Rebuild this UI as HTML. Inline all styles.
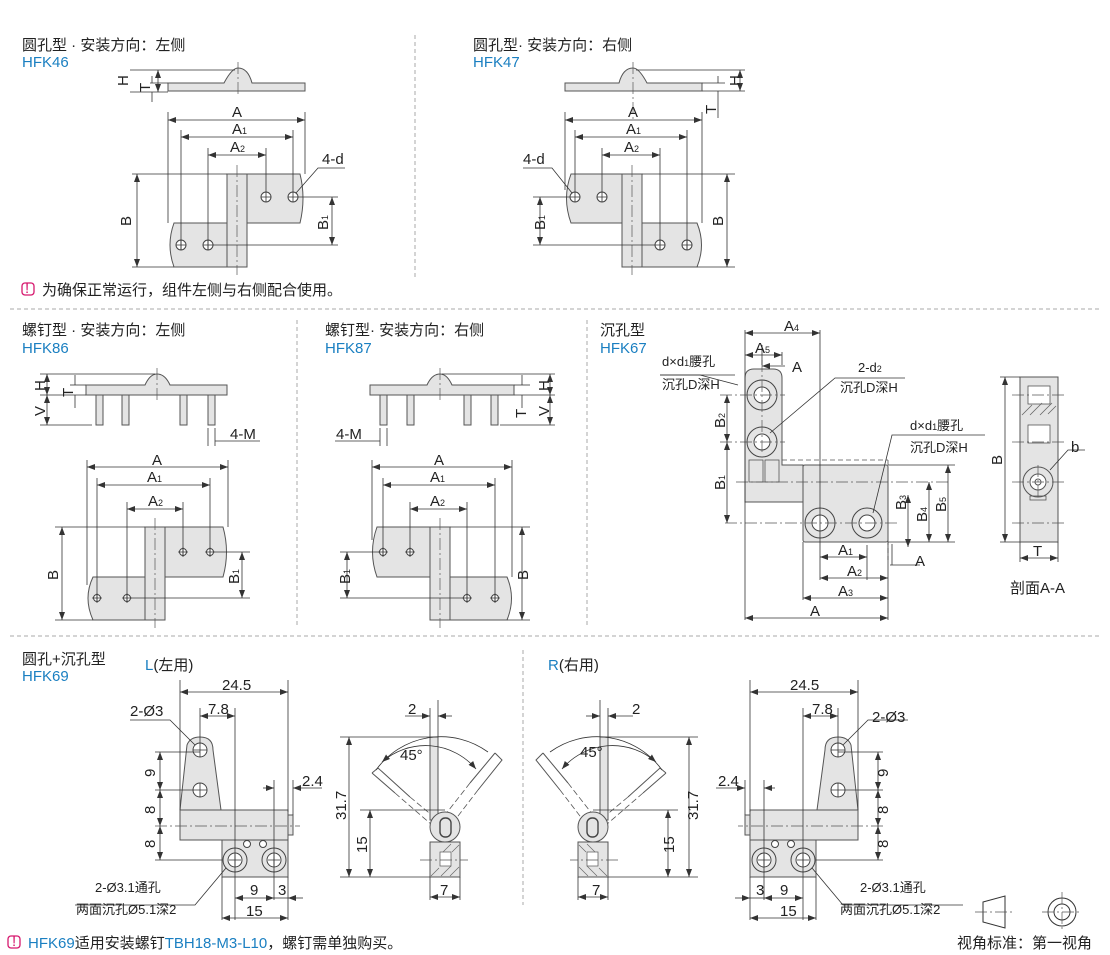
<!DOCTYPE html>
<html><head><meta charset="utf-8"><style>
html,body{margin:0;padding:0;background:#fff;}
svg{display:block;font-family:"Liberation Sans","Noto Sans CJK SC",sans-serif;}
.p{fill:#e4e4e4;stroke:#555;stroke-width:1}
.d{stroke:#333;stroke-width:.8;fill:none}
.dm{stroke:#333;stroke-width:.8;fill:none;marker-start:url(#a);marker-end:url(#a)}
.c{stroke:#555;stroke-width:.7;stroke-dasharray:12 3 2 3;fill:none}
.h{fill:#fff;stroke:#444;stroke-width:1}
.dash{stroke:#aaa;stroke-width:1;stroke-dasharray:4 3}
text{font-size:15px;fill:#222}
.b{fill:#1a7fc1}
.s{font-size:13px}
</style></head><body>
<svg width="1110" height="955" viewBox="0 0 1110 955" xmlns="http://www.w3.org/2000/svg">
<defs>
<marker id="a" viewBox="0 0 8 6" refX="8" refY="3" markerWidth="8" markerHeight="6" orient="auto-start-reverse" markerUnits="userSpaceOnUse"><path d="M0,0L8,3L0,6z" fill="#333"/></marker>
</defs>

<line class="dash" x1="415" y1="35" x2="415" y2="280"/>
<line class="dash" x1="10" y1="309" x2="1100" y2="309"/>
<line class="dash" x1="297" y1="320" x2="297" y2="625"/>
<line class="dash" x1="587" y1="320" x2="587" y2="625"/>
<line class="dash" x1="10" y1="636" x2="1100" y2="636"/>
<line class="dash" x1="523" y1="650" x2="523" y2="905"/>

<!-- ===== HFK46 ===== -->
<text x="22" y="50">圆孔型 · 安装方向：左侧</text>
<text x="22" y="67" class="b">HFK46</text>
<path class="p" d="M168,83 H224 Q232,68 238,68 Q248,68 252,83 H305 V91 H168 Z"/>
<line class="c" x1="238" y1="62" x2="238" y2="96"/>
<line class="d" x1="130" y1="70" x2="235" y2="70"/><line class="d" x1="130" y1="92" x2="168" y2="92"/><line class="d" x1="150" y1="83" x2="168" y2="83"/>
<line class="dm" x1="158" y1="70" x2="158" y2="92"/>
<line class="d" x1="152" y1="76" x2="152" y2="83"/><line class="d" x1="152" y1="92" x2="152" y2="102"/>
<text transform="translate(128,86) rotate(-90)">H</text>
<text transform="translate(150,92) rotate(-90)">T</text>
<path class="p" d="M227,174 H300 Q306,198 300,223 H227 Z"/>
<path class="p" d="M174,223 H247 V267 H174 Q166,245 174,223 Z"/>
<rect class="p" x="227" y="174" width="20" height="93"/>
<line class="c" x1="237" y1="165" x2="237" y2="275"/>
<g class="h"><circle cx="266" cy="197" r="5"/><circle cx="293" cy="197" r="5"/><circle cx="181" cy="245" r="5"/><circle cx="208" cy="245" r="5"/></g>
<g class="d"><path d="M261,197h10M266,192v10M288,197h10M293,192v10M176,245h10M181,240v10M203,245h10M208,240v10"/>
<line x1="168" y1="112" x2="168" y2="223"/><line x1="305" y1="112" x2="305" y2="174"/>
<line x1="181" y1="130" x2="181" y2="250"/><line x1="293" y1="130" x2="293" y2="192"/>
<line x1="208" y1="148" x2="208" y2="250"/><line x1="266" y1="148" x2="266" y2="192"/>
<line x1="132" y1="174" x2="227" y2="174"/><line x1="132" y1="267" x2="174" y2="267"/>
<line x1="298" y1="197" x2="338" y2="197"/><line x1="213" y1="245" x2="338" y2="245"/>
<path d="M296,193 L318,168 H345"/></g>
<line class="dm" x1="168" y1="120" x2="305" y2="120"/>
<line class="dm" x1="181" y1="137" x2="293" y2="137"/>
<line class="dm" x1="208" y1="155" x2="266" y2="155"/>
<line class="dm" x1="137" y1="174" x2="137" y2="267"/>
<line class="dm" x1="332" y1="197" x2="332" y2="245"/>
<text x="232" y="117">A</text><text x="232" y="134">A<tspan font-size="9">1</tspan></text><text x="230" y="152">A<tspan font-size="9">2</tspan></text>
<text x="322" y="164">4-d</text>
<text transform="translate(131,226) rotate(-90)">B</text>
<text transform="translate(328,230) rotate(-90)">B<tspan font-size="9">1</tspan></text>

<!-- ===== HFK47 ===== -->
<text x="473" y="50">圆孔型· 安装方向：右侧</text>
<text x="473" y="67" class="b">HFK47</text>
<path class="p" d="M565,83 H619 Q623,68 633,68 Q639,68 647,83 H702 V91 H565 Z"/>
<line class="c" x1="633" y1="62" x2="633" y2="120"/>
<line class="d" x1="636" y1="70" x2="745" y2="70"/><line class="d" x1="702" y1="91" x2="745" y2="91"/><line class="d" x1="702" y1="83" x2="725" y2="83"/>
<line class="dm" x1="740" y1="70" x2="740" y2="91"/>
<line class="d" x1="718" y1="76" x2="718" y2="83"/><line class="d" x1="718" y1="91" x2="718" y2="118"/>
<text transform="translate(740,86) rotate(-90)">H</text>
<text transform="translate(716,114) rotate(-90)">T</text>
<path class="p" d="M642,174 H571 Q562,198 571,223 H642 Z"/>
<path class="p" d="M622,223 H697 Q706,245 697,267 H622 Z"/>
<rect class="p" x="622" y="174" width="20" height="93"/>
<line class="c" x1="632" y1="165" x2="632" y2="275"/>
<g class="h"><circle cx="575" cy="197" r="5"/><circle cx="602" cy="197" r="5"/><circle cx="660" cy="245" r="5"/><circle cx="687" cy="245" r="5"/></g>
<g class="d"><path d="M570,197h10M575,192v10M597,197h10M602,192v10M655,245h10M660,240v10M682,245h10M687,240v10"/>
<line x1="565" y1="112" x2="565" y2="190"/><line x1="702" y1="112" x2="702" y2="223"/>
<line x1="575" y1="130" x2="575" y2="192"/><line x1="687" y1="130" x2="687" y2="250"/>
<line x1="602" y1="148" x2="602" y2="192"/><line x1="660" y1="148" x2="660" y2="250"/>
<line x1="642" y1="174" x2="735" y2="174"/><line x1="697" y1="267" x2="735" y2="267"/>
<line x1="533" y1="197" x2="570" y2="197"/><line x1="533" y1="245" x2="655" y2="245"/>
<path d="M572,193 L552,168 H523"/></g>
<line class="dm" x1="565" y1="120" x2="702" y2="120"/>
<line class="dm" x1="575" y1="137" x2="687" y2="137"/>
<line class="dm" x1="602" y1="155" x2="660" y2="155"/>
<line class="dm" x1="727" y1="174" x2="727" y2="267"/>
<line class="dm" x1="540" y1="197" x2="540" y2="245"/>
<text x="628" y="117">A</text><text x="626" y="134">A<tspan font-size="9">1</tspan></text><text x="624" y="152">A<tspan font-size="9">2</tspan></text>
<text x="523" y="164">4-d</text>
<text transform="translate(723,226) rotate(-90)">B</text>
<text transform="translate(545,230) rotate(-90)">B<tspan font-size="9">1</tspan></text>

<rect x="22" y="283" width="12" height="12" rx="3" fill="none" stroke="#d6186e" stroke-width="1.3"/><text x="25" y="293" font-size="11" style="fill:#d6186e">!</text>
<text x="42" y="295">为确保正常运行，组件左侧与右侧配合使用。</text>

<!-- ===== HFK86 ===== -->
<text x="22" y="335">螺钉型 · 安装方向：左侧</text>
<text x="22" y="353" class="b">HFK86</text>
<g class="p"><rect x="96" y="395" width="7" height="30"/><rect x="122" y="395" width="7" height="30"/><rect x="180" y="395" width="7" height="30"/><rect x="208" y="395" width="7" height="30"/></g>
<path class="p" d="M86,385 H145 Q150,374 157,374 Q165,374 170,385 H227 V395 H86 Z"/>
<line class="c" x1="157" y1="368" x2="157" y2="400"/>
<g class="d"><line x1="40" y1="374" x2="155" y2="374"/><line x1="40" y1="395" x2="86" y2="395"/><line x1="70" y1="385" x2="86" y2="385"/><line x1="40" y1="425" x2="92" y2="425"/>
<line x1="208" y1="428" x2="208" y2="446"/><line x1="215" y1="428" x2="215" y2="446"/><line x1="215" y1="441" x2="260" y2="441"/></g>
<line class="dm" x1="47" y1="374" x2="47" y2="395"/><line class="dm" x1="47" y1="395" x2="47" y2="425"/>
<line class="d" x1="75" y1="375" x2="75" y2="385"/><line class="d" x1="75" y1="395" x2="75" y2="408"/>
<text transform="translate(45,391) rotate(-90)">H</text><text transform="translate(73,397) rotate(-90)">T</text><text transform="translate(45,416) rotate(-90)">V</text>
<text x="230" y="439">4-M</text>
<path class="p" d="M145,527 H223 Q230,552 223,577 H145 Z"/>
<path class="p" d="M93,577 H165 V620 H93 Q83,598 93,577 Z"/>
<rect class="p" x="145" y="527" width="20" height="93"/>
<line class="c" x1="155" y1="518" x2="155" y2="628"/>
<g class="h"><circle cx="183" cy="552" r="3.5"/><circle cx="210" cy="552" r="3.5"/><circle cx="97" cy="598" r="3.5"/><circle cx="127" cy="598" r="3.5"/></g>
<g class="d"><path d="M178,552h10M183,547v10M205,552h10M210,547v10M92,598h10M97,593v10M122,598h10M127,593v10"/>
<line x1="87" y1="460" x2="87" y2="585"/><line x1="228" y1="460" x2="228" y2="527"/>
<line x1="97" y1="478" x2="97" y2="602"/><line x1="210" y1="478" x2="210" y2="556"/>
<line x1="127" y1="502" x2="127" y2="602"/><line x1="183" y1="502" x2="183" y2="556"/>
<line x1="55" y1="527" x2="145" y2="527"/><line x1="55" y1="620" x2="93" y2="620"/>
<line x1="214" y1="552" x2="250" y2="552"/><line x1="131" y1="598" x2="250" y2="598"/></g>
<line class="dm" x1="87" y1="467" x2="228" y2="467"/><line class="dm" x1="97" y1="485" x2="210" y2="485"/><line class="dm" x1="127" y1="509" x2="183" y2="509"/>
<line class="dm" x1="62" y1="527" x2="62" y2="620"/><line class="dm" x1="242" y1="552" x2="242" y2="598"/>
<text x="152" y="465">A</text><text x="147" y="482">A<tspan font-size="9">1</tspan></text><text x="148" y="506">A<tspan font-size="9">2</tspan></text>
<text transform="translate(58,580) rotate(-90)">B</text><text transform="translate(239,584) rotate(-90)">B<tspan font-size="9">1</tspan></text>

<!-- ===== HFK87 ===== -->
<text x="325" y="335">螺钉型· 安装方向：右侧</text>
<text x="325" y="353" class="b">HFK87</text>
<g class="p"><rect x="380" y="395" width="7" height="30"/><rect x="407" y="395" width="7" height="30"/><rect x="464" y="395" width="7" height="30"/><rect x="491" y="395" width="7" height="30"/></g>
<path class="p" d="M370,385 H427 Q432,374 440,374 Q447,374 452,385 H514 V395 H370 Z"/>
<line class="c" x1="440" y1="368" x2="440" y2="400"/>
<g class="d"><line x1="442" y1="374" x2="555" y2="374"/><line x1="514" y1="395" x2="555" y2="395"/><line x1="514" y1="385" x2="530" y2="385"/><line x1="500" y1="425" x2="555" y2="425"/>
<line x1="380" y1="428" x2="380" y2="446"/><line x1="387" y1="428" x2="387" y2="446"/><line x1="335" y1="441" x2="380" y2="441"/></g>
<line class="dm" x1="550" y1="374" x2="550" y2="395"/><line class="dm" x1="550" y1="395" x2="550" y2="425"/>
<line class="d" x1="522" y1="375" x2="522" y2="385"/><line class="d" x1="522" y1="395" x2="522" y2="408"/>
<text transform="translate(549,391) rotate(-90)">H</text><text transform="translate(526,418) rotate(-90)">T</text><text transform="translate(549,416) rotate(-90)">V</text>
<text x="336" y="439">4-M</text>
<path class="p" d="M450,527 H377 Q368,552 377,577 H450 Z"/>
<path class="p" d="M430,577 H507 Q516,598 507,620 H430 Z"/>
<rect class="p" x="430" y="527" width="20" height="93"/>
<line class="c" x1="440" y1="518" x2="440" y2="628"/>
<g class="h"><circle cx="383" cy="552" r="3.5"/><circle cx="410" cy="552" r="3.5"/><circle cx="467" cy="598" r="3.5"/><circle cx="495" cy="598" r="3.5"/></g>
<g class="d"><path d="M378,552h10M383,547v10M405,552h10M410,547v10M462,598h10M467,593v10M490,598h10M495,593v10"/>
<line x1="372" y1="460" x2="372" y2="540"/><line x1="512" y1="460" x2="512" y2="577"/>
<line x1="383" y1="478" x2="383" y2="556"/><line x1="495" y1="478" x2="495" y2="602"/>
<line x1="410" y1="502" x2="410" y2="556"/><line x1="467" y1="502" x2="467" y2="602"/>
<line x1="450" y1="527" x2="530" y2="527"/><line x1="507" y1="620" x2="530" y2="620"/>
<line x1="340" y1="552" x2="379" y2="552"/><line x1="340" y1="598" x2="463" y2="598"/></g>
<line class="dm" x1="372" y1="467" x2="512" y2="467"/><line class="dm" x1="383" y1="485" x2="495" y2="485"/><line class="dm" x1="410" y1="509" x2="467" y2="509"/>
<line class="dm" x1="522" y1="527" x2="522" y2="620"/><line class="dm" x1="347" y1="552" x2="347" y2="598"/>
<text x="434" y="465">A</text><text x="430" y="482">A<tspan font-size="9">1</tspan></text><text x="430" y="506">A<tspan font-size="9">2</tspan></text>
<text transform="translate(528,580) rotate(-90)">B</text><text transform="translate(350,584) rotate(-90)">B<tspan font-size="9">1</tspan></text>

<!-- ===== HFK67 ===== -->
<text x="600" y="335">沉孔型</text>
<text x="600" y="353" class="b">HFK67</text>
<path class="p" d="M745,378 Q745,369 754,369 H773 Q782,369 782,378 V465 H803 V502 H745 Z"/>
<rect class="p" x="803" y="465" width="85" height="77" rx="2"/>
<line x1="782" y1="460" x2="888" y2="460" stroke="#555" stroke-dasharray="5 3" stroke-width=".8"/>
<line x1="888" y1="460" x2="888" y2="560" stroke="#555" stroke-dasharray="5 3" stroke-width=".8"/>
<g fill="none" stroke="#555" stroke-width=".8"><rect x="749" y="460" width="14" height="22"/><rect x="765" y="460" width="14" height="22"/></g>
<g class="h"><circle cx="762" cy="395" r="15" fill="#e4e4e4"/><circle cx="762" cy="395" r="8"/><circle cx="762" cy="442" r="15" fill="#e4e4e4"/><circle cx="762" cy="442" r="8"/>
<circle cx="820" cy="523" r="15" fill="#e4e4e4"/><circle cx="820" cy="523" r="8"/><circle cx="867" cy="523" r="15" fill="#e4e4e4"/><circle cx="867" cy="523" r="8"/></g>
<g class="c"><line x1="720" y1="395" x2="785" y2="395"/><line x1="720" y1="442" x2="785" y2="442"/><line x1="736" y1="482" x2="950" y2="482"/><line x1="725" y1="523" x2="900" y2="523"/><line x1="762" y1="360" x2="762" y2="455"/></g>
<g class="d"><line x1="745" y1="330" x2="745" y2="620"/><line x1="820" y1="330" x2="820" y2="545"/><line x1="782" y1="352" x2="782" y2="365"/><line x1="762" y1="345" x2="762" y2="365"/>
<line x1="888" y1="542" x2="888" y2="620"/><line x1="803" y1="542" x2="803" y2="600"/><line x1="867" y1="545" x2="867" y2="580"/><line x1="820" y1="545" x2="820" y2="580"/>
<line x1="888" y1="465" x2="955" y2="465"/><line x1="888" y1="542" x2="955" y2="542"/>
<path d="M770,433 L835,378 H905"/><path d="M873,513 L892,435 H985"/>
<path d="M738,385 L700,375 H660"/><line x1="660" y1="375" x2="735" y2="375"/>
<line x1="890" y1="565" x2="920" y2="565"/><line x1="892" y1="544" x2="892" y2="565"/></g>
<line class="dm" x1="745" y1="333" x2="820" y2="333"/>
<line class="dm" x1="745" y1="355" x2="782" y2="355"/>
<line class="d" x1="762" y1="366" x2="785" y2="366" marker-start="url(#a)"/>
<line class="dm" x1="727" y1="395" x2="727" y2="442"/><line class="dm" x1="727" y1="442" x2="727" y2="523"/>
<line class="dm" x1="908" y1="495" x2="908" y2="547"/><line class="dm" x1="929" y1="482" x2="929" y2="542"/><line class="dm" x1="948" y1="465" x2="948" y2="542"/>
<line class="dm" x1="820" y1="557" x2="867" y2="557"/><line class="dm" x1="820" y1="578" x2="888" y2="578"/><line class="dm" x1="803" y1="598" x2="888" y2="598"/><line class="dm" x1="745" y1="618" x2="888" y2="618"/>
<text x="784" y="331">A<tspan font-size="9">4</tspan></text><text x="755" y="353">A<tspan font-size="9">5</tspan></text><text x="792" y="372">A</text>
<text x="662" y="366" class="s">d×d<tspan font-size="9">1</tspan>腰孔</text><text x="662" y="389" class="s">沉孔D深H</text>
<text x="858" y="372" class="s">2-d<tspan font-size="9">2</tspan></text><text x="840" y="392" class="s">沉孔D深H</text>
<text x="910" y="430" class="s">d×d<tspan font-size="9">1</tspan>腰孔</text><text x="910" y="452" class="s">沉孔D深H</text>
<text transform="translate(725,428) rotate(-90)">B<tspan font-size="9">2</tspan></text>
<text transform="translate(725,490) rotate(-90)">B<tspan font-size="9">1</tspan></text>
<text transform="translate(906,510) rotate(-90)">B<tspan font-size="9">3</tspan></text>
<text transform="translate(927,522) rotate(-90)">B<tspan font-size="9">4</tspan></text>
<text transform="translate(946,512) rotate(-90)">B<tspan font-size="9">5</tspan></text>
<text x="838" y="555">A<tspan font-size="9">1</tspan></text><text x="847" y="576">A<tspan font-size="9">2</tspan></text><text x="838" y="596">A<tspan font-size="9">3</tspan></text><text x="810" y="616">A</text><text x="915" y="566">A</text>
<rect class="p" x="1020" y="377" width="38" height="165"/>
<g fill="#fff" stroke="#555" stroke-width=".8"><rect x="1028" y="386" width="22" height="18"/><rect x="1028" y="425" width="22" height="18"/></g>
<path d="M1022,415 l10,-10 M1030,415 l12,-12 M1040,415 l12,-12 M1048,414 l8,-8" stroke="#666" stroke-width=".8"/>
<circle cx="1038" cy="482" r="15" fill="#e4e4e4" stroke="#555"/><circle cx="1038" cy="482" r="8" fill="#fff" stroke="#555"/><circle cx="1038" cy="482" r="3" fill="#fff" stroke="#555"/>
<rect x="1030" y="496" width="16" height="4" fill="none" stroke="#555" stroke-width=".8"/>
<g class="c"><line x1="1012" y1="395" x2="1065" y2="395"/><line x1="1012" y1="442" x2="1065" y2="442"/><line x1="1012" y1="482" x2="1065" y2="482"/><line x1="1012" y1="523" x2="1065" y2="523"/><line x1="1038" y1="465" x2="1038" y2="500"/></g>
<g class="d"><line x1="1000" y1="377" x2="1020" y2="377"/><line x1="1000" y1="542" x2="1020" y2="542"/><line x1="1020" y1="542" x2="1020" y2="562"/><line x1="1058" y1="542" x2="1058" y2="562"/><path d="M1050,470 L1068,450 H1085"/></g>
<line class="dm" x1="1005" y1="377" x2="1005" y2="542"/><line class="dm" x1="1020" y1="558" x2="1058" y2="558"/>
<text transform="translate(1002,465) rotate(-90)">B</text><text x="1033" y="556">T</text><text x="1071" y="452">b</text>
<text x="1010" y="593">剖面A-A</text>

<!-- ===== HFK69 ===== -->
<text x="22" y="664">圆孔+沉孔型</text>
<text x="22" y="681" class="b">HFK69</text>
<text x="145" y="670"><tspan class="b">L</tspan>(左用)</text>
<text x="548" y="670"><tspan class="b">R</tspan>(右用)</text>

<g id="L">
<path class="p" d="M187,745 Q190,737 200,737 Q213,737 213,750 L221,810 H180 Z"/>
<rect class="p" x="180" y="810" width="108" height="30"/>
<rect class="p" x="222" y="840" width="66" height="37"/>
<rect class="p" x="288" y="815" width="5" height="20"/>
<g class="h"><circle cx="200" cy="750" r="7"/><circle cx="200" cy="790" r="7"/><circle cx="235" cy="860" r="12" fill="#e4e4e4"/><circle cx="235" cy="860" r="7"/><circle cx="274" cy="860" r="12" fill="#e4e4e4"/><circle cx="274" cy="860" r="7"/><circle cx="247" cy="844" r="3.5"/><circle cx="263" cy="844" r="3.5"/></g>
<g class="c"><line x1="155" y1="826" x2="300" y2="826"/></g>
<g class="d"><path d="M193,750h14M200,743v14M193,790h14M200,783v14M229,860h12M235,854v12M268,860h12M274,854v12"/>
<line x1="180" y1="680" x2="180" y2="810"/><line x1="288" y1="680" x2="288" y2="812"/><line x1="200" y1="708" x2="200" y2="743"/><line x1="235" y1="708" x2="235" y2="920"/>
<line x1="274" y1="780" x2="274" y2="900"/><line x1="293" y1="780" x2="293" y2="815"/><line x1="222" y1="877" x2="222" y2="920"/><line x1="288" y1="877" x2="288" y2="920"/>
<line x1="155" y1="752" x2="200" y2="752"/><line x1="155" y1="790" x2="193" y2="790"/><line x1="155" y1="860" x2="222" y2="860"/>
<path d="M195,745 L170,720 H130"/><path d="M226,868 L195,905 H75"/></g>
<line class="dm" x1="180" y1="692" x2="288" y2="692"/><line class="dm" x1="200" y1="716" x2="235" y2="716"/>
<line class="dm" x1="160" y1="752" x2="160" y2="790"/><line class="dm" x1="160" y1="790" x2="160" y2="826"/><line class="dm" x1="160" y1="826" x2="160" y2="860"/>
<line class="d" x1="263" y1="788" x2="274" y2="788" marker-end="url(#a)"/><line class="d" x1="293" y1="788" x2="322" y2="788" marker-start="url(#a)"/>
<line class="dm" x1="235" y1="898" x2="274" y2="898"/><line class="d" x1="274" y1="898" x2="288" y2="898"/><line class="d" x1="288" y1="898" x2="303" y2="898" marker-start="url(#a)"/>
<line class="dm" x1="222" y1="918" x2="288" y2="918"/>
<!-- angle view -->
<path d="M372,773 L378,768 L410,797" fill="none" stroke="#555" stroke-width="1"/>
<path d="M372,773 L395,793" fill="none" stroke="#555" stroke-width="1"/>
<path d="M395,793 L432,825 M410,797 L440,822" fill="none" stroke="#555" stroke-width=".8" stroke-dasharray="6 3"/>
<path d="M495,753 L502,760 L478,790 M495,753 L470,783" fill="none" stroke="#555" stroke-width="1"/>
<path d="M470,783 L445,815 M478,790 L455,820" fill="none" stroke="#555" stroke-width=".8" stroke-dasharray="6 3"/>
<rect class="p" x="430" y="737" width="8" height="83"/>
<rect class="p" x="430" y="842" width="30" height="35"/>
<circle cx="445" cy="827" r="15" fill="#e4e4e4" stroke="#555"/><rect x="440" y="818" width="11" height="19" rx="5" fill="#e4e4e4" stroke="#444" stroke-width="1.4"/>
<rect x="440" y="852" width="11" height="14" fill="#fff" stroke="#555" stroke-width=".7"/>
<path d="M431,876 l8,-8 M441,876 l10,-10 M450,876 l9,-9 M443,852 l8,-8 M452,852 l7,-7" stroke="#666" stroke-width=".7"/>
<line class="c" x1="420" y1="860" x2="468" y2="860"/>
<g class="d"><line x1="438" y1="700" x2="438" y2="737"/><line x1="430" y1="708" x2="430" y2="737"/><line x1="340" y1="737" x2="430" y2="737"/><line x1="340" y1="877" x2="430" y2="877"/><line x1="360" y1="810" x2="445" y2="810"/>
<line x1="430" y1="877" x2="430" y2="900"/><line x1="460" y1="877" x2="460" y2="900"/>
<path d="M376,770 A80,80 0 0 1 488,752"/></g>
<path d="M382,762 A66,66 0 0 1 476,769" fill="none" stroke="#333" stroke-width=".8" marker-start="url(#a)" marker-end="url(#a)"/>
<line class="d" x1="405" y1="716" x2="430" y2="716" marker-end="url(#a)"/><line class="d" x1="438" y1="716" x2="452" y2="716" marker-start="url(#a)"/>
<line class="dm" x1="349" y1="737" x2="349" y2="877"/><line class="dm" x1="370" y1="810" x2="370" y2="877"/>
<line class="dm" x1="430" y1="897" x2="460" y2="897"/>
</g>
<use href="#L" transform="translate(1038,0) scale(-1,1)"/>

<text x="222" y="690">24.5</text><text x="208" y="714">7.8</text><text x="130" y="716">2-Ø3</text>
<text transform="translate(155,777) rotate(-90)">9</text><text transform="translate(155,814) rotate(-90)">8</text><text transform="translate(155,848) rotate(-90)">8</text>
<text x="302" y="786">2.4</text><text x="250" y="895">9</text><text x="278" y="895">3</text><text x="246" y="916">15</text>
<text x="95" y="892" class="s">2-Ø3.1通孔</text><text x="76" y="914" class="s">两面沉孔Ø5.1深2</text>
<text x="408" y="714">2</text><text x="400" y="760" font-size="12">45°</text>
<text transform="translate(346,820) rotate(-90)">31.7</text><text transform="translate(367,853) rotate(-90)">15</text><text x="440" y="895">7</text>
<text x="790" y="690">24.5</text><text x="812" y="714">7.8</text><text x="872" y="722">2-Ø3</text>
<text transform="translate(888,777) rotate(-90)">9</text><text transform="translate(888,814) rotate(-90)">8</text><text transform="translate(888,848) rotate(-90)">8</text>
<text x="718" y="786">2.4</text><text x="780" y="895">9</text><text x="756" y="895">3</text><text x="780" y="916">15</text>
<text x="860" y="892" class="s">2-Ø3.1通孔</text><text x="840" y="914" class="s">两面沉孔Ø5.1深2</text>
<text x="632" y="714">2</text><text x="580" y="757" font-size="12">45°</text>
<text transform="translate(698,820) rotate(-90)">31.7</text><text transform="translate(674,853) rotate(-90)">15</text><text x="592" y="895">7</text>

<path d="M983,902 L1005,896 V928 L983,922 Z" fill="none" stroke="#333"/>
<line class="c" x1="975" y1="912" x2="1013" y2="912"/>
<circle cx="1062" cy="912" r="14" fill="none" stroke="#333"/><circle cx="1062" cy="912" r="8" fill="none" stroke="#333"/>
<line class="c" x1="1042" y1="912" x2="1082" y2="912"/><line class="c" x1="1062" y1="892" x2="1062" y2="932"/>
<text x="957" y="948">视角标准：第一视角</text>

<rect x="8" y="936" width="12" height="12" rx="3" fill="none" stroke="#d6186e" stroke-width="1.3"/><text x="12" y="946" font-size="11" style="fill:#d6186e">!</text>
<text x="28" y="948"><tspan class="b">HFK69</tspan>适用安装螺钉<tspan class="b">TBH18-M3-L10</tspan>，螺钉需单独购买。</text>
</svg>
</body></html>
